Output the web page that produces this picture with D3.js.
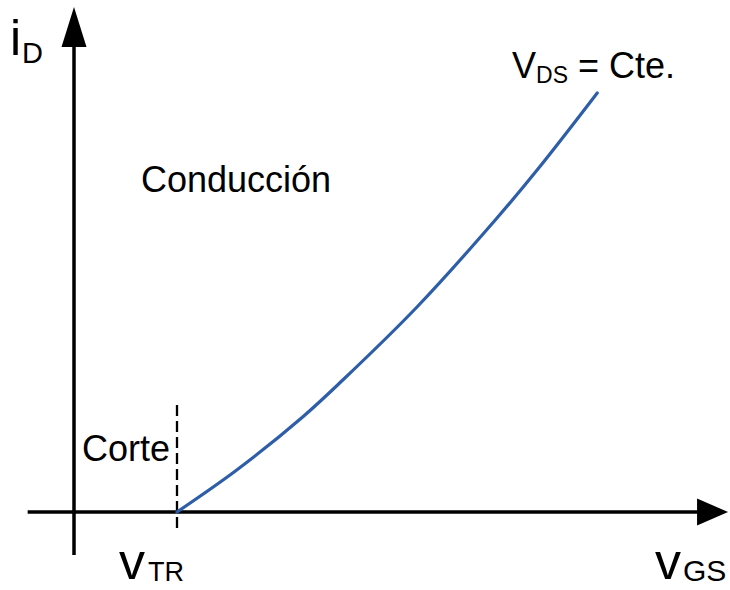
<!DOCTYPE html>
<html>
<head>
<meta charset="utf-8">
<script src="https://cdn.jsdelivr.net/npm/d3@7"></script>
<style>
  html, body { margin: 0; padding: 0; background: #fff; }
  svg { display: block; font-family: "Liberation Sans", Arial, sans-serif; }
</style>
</head>
<body>
<svg id="chart" width="730" height="590"></svg>
<script>
// Transfer characteristic iD(vGS) at constant vDS (arbitrary units, vTR = 1)
const vGS = [1.0, 1.58, 2.22, 2.61, 3.33, 4.09, 4.52, 5.08];
const iD  = [0, 0.42, 0.95, 1.32, 2.05, 2.92, 3.45, 4.19];

// Threshold voltage and axis extents
const vTR = 1;
const vAxisExtent = [-0.45, 6.35];
const iAxisExtent = [-0.43, 5.05];
const dashExtent = [-0.18, 1.07];

const svg = d3.select("#chart");
const x = d3.scaleLinear().domain([0, 1]).range([74, 177]);
const y = d3.scaleLinear().domain([0, 1]).range([512, 412]);

const axisW = 3.5;

// Horizontal axis (vGS) with arrowhead
const xTip = x(vAxisExtent[1]);
svg.append("line")
  .attr("x1", x(vAxisExtent[0])).attr("x2", xTip - 25)
  .attr("y1", y(0)).attr("y2", y(0))
  .attr("stroke", "#000").attr("stroke-width", axisW);
svg.append("path")
  .attr("d", `M${xTip},${y(0)} L${xTip - 31},${y(0) - 13.5} L${xTip - 31},${y(0) + 13.5} Z`)
  .attr("fill", "#000");

// Vertical axis (iD) with arrowhead
const yTip = y(iAxisExtent[1]);
svg.append("line")
  .attr("x1", x(0)).attr("x2", x(0))
  .attr("y1", y(iAxisExtent[0])).attr("y2", yTip + 35)
  .attr("stroke", "#000").attr("stroke-width", axisW);
svg.append("path")
  .attr("d", `M${x(0)},${yTip} L${x(0) - 12.5},${yTip + 40} L${x(0) + 12.5},${yTip + 40} Z`)
  .attr("fill", "#000");

// Threshold marker
svg.append("line")
  .attr("x1", x(vTR)).attr("x2", x(vTR))
  .attr("y1", y(dashExtent[1])).attr("y2", y(dashExtent[0]))
  .attr("stroke", "#000").attr("stroke-width", 2.3)
  .attr("stroke-dasharray", "11,5");

// Characteristic curve
const pts = vGS.map((v, i) => [v, iD[i]]);
svg.append("path")
  .datum(pts)
  .attr("d", d3.line().x(d => x(d[0])).y(d => y(d[1])).curve(d3.curveCatmullRom.alpha(0.5)))
  .attr("fill", "none")
  .attr("stroke", "#2e5ea8")
  .attr("stroke-width", 3.2)
  .attr("stroke-linecap", "round");

// Labels
function label(px, py, parts) {
  const t = svg.append("text").attr("x", px).attr("y", py).attr("fill", "#000");
  parts.forEach(p => {
    const s = t.append("tspan").text(p.text).attr("font-size", p.size);
    if (p.dy) s.attr("dy", p.dy);
    if (p.dx) s.attr("dx", p.dx);
  });
  return t;
}

label(10, 55, [{ text: "i", size: 50 }, { text: "D", size: 29, dy: 8, dx: 1 }]);
label(119, 579, [{ text: "v", size: 52 }, { text: "TR", size: 27, dy: 2, dx: 3 }]);
label(655, 579, [{ text: "v", size: 52 }, { text: "GS", size: 30, dy: 2, dx: 2 }]);
label(512, 78, [{ text: "V", size: 36 }, { text: "DS", size: 23, dy: 5 }, { text: " = Cte.", size: 36, dy: -5 }]);
label(141, 192, [{ text: "Conducción", size: 36 }]);
label(82, 461, [{ text: "Corte", size: 36 }]);
</script>
</body>
</html>
